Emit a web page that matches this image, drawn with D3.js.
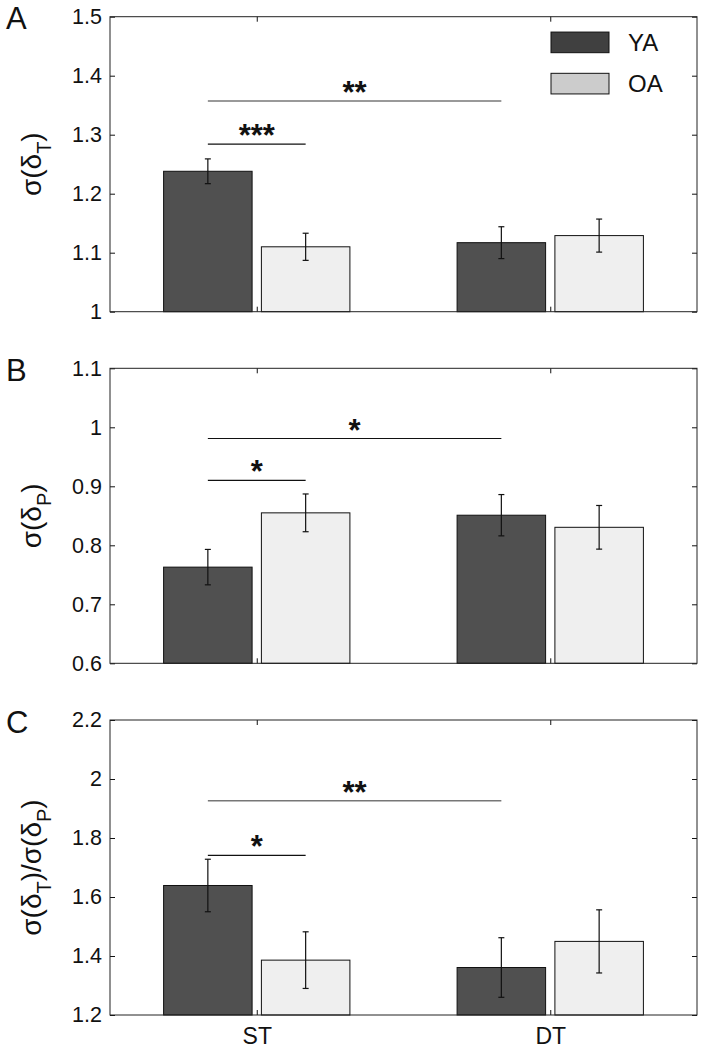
<!DOCTYPE html>
<html>
<head>
<meta charset="utf-8">
<script src="https://cdn.jsdelivr.net/npm/d3@7"></script>
<style>
  html, body { margin: 0; padding: 0; background: #fff; }
  svg { display: block; font-family: "Liberation Sans", Arial, Helvetica, sans-serif; }
</style>
</head>
<body>
<svg id="chart" width="704" height="1051"></svg>
<script>
// ---------------- DATA ----------------
const groups = ["ST", "DT"];
const seriesNames = ["YA", "OA"];

// Panel A: sigma(delta_T)
const valuesA_YA = [1.238, 1.117];
const valuesA_OA = [1.110, 1.129];
const errA_YA = [0.021, 0.027];
const errA_OA = [0.023, 0.028];
const ticksA = [1, 1.1, 1.2, 1.3, 1.4, 1.5];
const domainA = [1, 1.5];
const sigA = [
  { from: ["ST", "YA"], to: ["DT", "YA"], y: 1.357, label: "**" },
  { from: ["ST", "YA"], to: ["ST", "OA"], y: 1.284, label: "***" }
];

// Panel B: sigma(delta_P)
const valuesB_YA = [0.763, 0.851];
const valuesB_OA = [0.855, 0.8305];
const errB_YA = [0.030, 0.035];
const errB_OA = [0.032, 0.037];
const ticksB = [0.6, 0.7, 0.8, 0.9, 1, 1.1];
const domainB = [0.6, 1.1];
const sigB = [
  { from: ["ST", "YA"], to: ["DT", "YA"], y: 0.981, label: "*" },
  { from: ["ST", "YA"], to: ["ST", "OA"], y: 0.910, label: "*" }
];

// Panel C: sigma(delta_T)/sigma(delta_P)
const valuesC_YA = [1.639, 1.361];
const valuesC_OA = [1.386, 1.4495];
const errC_YA = [0.089, 0.101];
const errC_OA = [0.096, 0.107];
const ticksC = [1.2, 1.4, 1.6, 1.8, 2, 2.2];
const domainC = [1.2, 2.2];
const sigC = [
  { from: ["ST", "YA"], to: ["DT", "YA"], y: 1.9265, label: "**" },
  { from: ["ST", "YA"], to: ["ST", "OA"], y: 1.741, label: "*" }
];

const panelLetters = ["A", "B", "C"];

// ---------------- LAYOUT / STYLE ----------------
const svg = d3.select("#chart");
const plotLeft = 110, plotRight = 697;
const panelTops = [16.7, 368.3, 720];
const panelH = 295;
const colors = { YA: "#505050", OA: "#efefef" };
const legendColors = { YA: "#404040", OA: "#cccccc" };

const panels = [
  { ya: valuesA_YA, oa: valuesA_OA, eya: errA_YA, eoa: errA_OA, ticks: ticksA, domain: domainA, sig: sigA,
    title: [["σ(δ", 0], ["T", 1], [")", 0]], legend: true },
  { ya: valuesB_YA, oa: valuesB_OA, eya: errB_YA, eoa: errB_OA, ticks: ticksB, domain: domainB, sig: sigB,
    title: [["σ(δ", 0], ["P", 1], [")", 0]], legend: false },
  { ya: valuesC_YA, oa: valuesC_OA, eya: errC_YA, eoa: errC_OA, ticks: ticksC, domain: domainC, sig: sigC,
    title: [["σ(δ", 0], ["T", 1], [")/σ(δ", 0], ["P", 1], [")", 0]], legend: false, xlabels: true }
];

const x0 = d3.scaleBand().domain(groups).range([plotLeft, plotRight]).paddingInner(0).paddingOuter(0);
const x1 = d3.scaleBand().domain(seriesNames).range([0, x0.bandwidth()]).paddingInner(0.095).paddingOuter(0.548);
const center = (g, s) => x0(g) + x1(s) + x1.bandwidth() / 2;
const gCenter = g => x0(g) + x0.bandwidth() / 2;
const fmt = d => String(+d.toFixed(2));

panels.forEach((p, i) => {
  const top = panelTops[i], bottom = top + panelH;
  const y = d3.scaleLinear().domain(p.domain).range([bottom, top]);
  const g = svg.append("g");

  const rows = [];
  groups.forEach((grp, gi) => {
    rows.push({ g: grp, s: "YA", v: p.ya[gi], e: p.eya[gi] });
    rows.push({ g: grp, s: "OA", v: p.oa[gi], e: p.eoa[gi] });
  });

  // bars
  g.selectAll("rect.bar").data(rows).join("rect")
    .attr("class", "bar")
    .attr("x", d => x0(d.g) + x1(d.s))
    .attr("width", x1.bandwidth())
    .attr("y", d => y(d.v))
    .attr("height", d => y(p.domain[0]) - y(d.v))
    .attr("fill", d => colors[d.s])
    .attr("stroke", "#111")
    .attr("stroke-width", 1);

  // error bars
  const eb = g.selectAll("g.err").data(rows).join("g").attr("class", "err")
    .attr("stroke", "#111").attr("stroke-width", 1.2);
  eb.append("line")
    .attr("x1", d => center(d.g, d.s)).attr("x2", d => center(d.g, d.s))
    .attr("y1", d => y(d.v + d.e)).attr("y2", d => y(d.v - d.e));
  eb.append("line")
    .attr("x1", d => center(d.g, d.s) - 3).attr("x2", d => center(d.g, d.s) + 3)
    .attr("y1", d => y(d.v + d.e)).attr("y2", d => y(d.v + d.e));
  eb.append("line")
    .attr("x1", d => center(d.g, d.s) - 3).attr("x2", d => center(d.g, d.s) + 3)
    .attr("y1", d => y(d.v - d.e)).attr("y2", d => y(d.v - d.e));

  // axes
  const left = g.append("g").attr("transform", `translate(${plotLeft},0)`)
    .call(d3.axisLeft(y).tickValues(p.ticks).tickFormat(fmt).tickSizeInner(-5).tickSizeOuter(0).tickPadding(8));
  const right = g.append("g").attr("transform", `translate(${plotRight},0)`)
    .call(d3.axisRight(y).tickValues(p.ticks).tickFormat("").tickSizeInner(-5).tickSizeOuter(0));
  const xb = d3.scaleOrdinal().domain(groups).range(groups.map(gCenter));
  const bot = g.append("g").attr("transform", `translate(0,${bottom})`)
    .call(d3.axisBottom(xb).tickSizeInner(-5).tickSizeOuter(0).tickPadding(13)
      .tickFormat(p.xlabels ? (d => d) : ""));
  const topAx = g.append("g").attr("transform", `translate(0,${top})`)
    .call(d3.axisTop(xb).tickSizeInner(-5).tickSizeOuter(0).tickFormat(""));
  [left, right, bot, topAx].forEach(a => {
    a.select(".domain").remove();
    a.selectAll("line").attr("stroke", "#111");
  });
  left.selectAll("text").attr("font-size", 21.5).attr("fill", "#111")
    .attr("font-family", "Liberation Sans, Arial, sans-serif");
  bot.selectAll("text").attr("font-size", 23).attr("fill", "#111")
    .attr("font-family", "Liberation Sans, Arial, sans-serif");

  // box
  g.append("rect").attr("x", plotLeft).attr("y", top)
    .attr("width", plotRight - plotLeft).attr("height", panelH)
    .attr("fill", "none").attr("stroke", "#222").attr("stroke-width", 1);

  // significance
  p.sig.forEach((s, si) => {
    const xa = center(s.from[0], s.from[1]);
    const xbp = center(s.to[0], s.to[1]);
    const long = s.to[0] !== s.from[0];
    g.append("line").attr("x1", xa).attr("x2", xbp).attr("y1", y(s.y)).attr("y2", y(s.y))
      .attr("stroke", long && i !== 1 ? "#777" : "#111").attr("stroke-width", long && i !== 1 ? 1.6 : 1.2);
    g.append("text").attr("x", (xa + xbp) / 2).attr("y", y(s.y) + 2)
      .attr("text-anchor", "middle").attr("font-size", 31).attr("font-weight", "bold").attr("fill", "#111")
      .text(s.label);
  });

  // y title
  const t = g.append("text")
    .attr("transform", `translate(41,${(top + bottom) / 2}) rotate(-90)`)
    .attr("text-anchor", "middle").attr("font-size", 28).attr("fill", "#111");
  let shift = 0;
  p.title.forEach(([txt, sub]) => {
    const dy = sub ? 10 - shift : -shift;
    shift = sub ? 10 : 0;
    t.append("tspan").attr("dy", dy).attr("font-size", sub ? 20 : 28).text(txt);
  });

  // panel letter
  g.append("text").attr("x", 6).attr("y", top + 12.6).attr("font-size", 31).attr("fill", "#111")
    .text(panelLetters[i]);

  // legend
  if (p.legend) {
    const lg = g.append("g");
    const ly = d3.scaleBand().domain(seriesNames).range([30, 96]).paddingInner(0.5).paddingOuter(0.05);
    seriesNames.forEach(s => {
      lg.append("rect").attr("x", 551).attr("y", ly(s)).attr("width", 58).attr("height", ly.bandwidth())
        .attr("fill", legendColors[s]).attr("stroke", "#111").attr("stroke-width", 1);
      lg.append("text").attr("x", 628).attr("y", ly(s) + ly.bandwidth() / 2).attr("dy", "0.36em")
        .attr("font-size", 24).attr("fill", "#111").text(s);
    });
  }
});
</script>
</body>
</html>
